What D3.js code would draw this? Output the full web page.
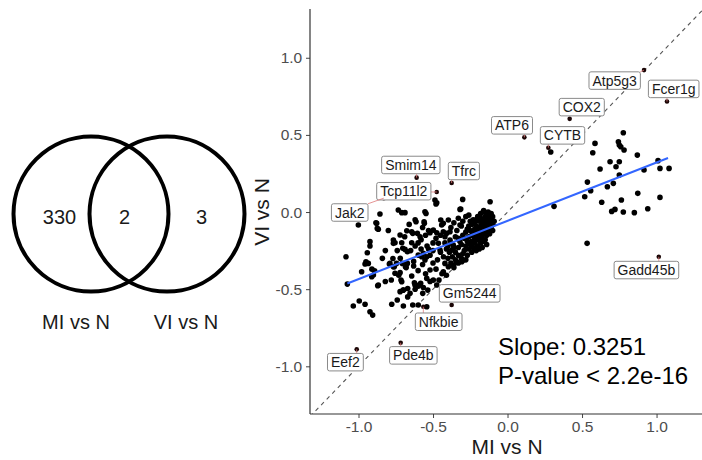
<!DOCTYPE html>
<html>
<head>
<meta charset="utf-8">
<script src="https://cdn.jsdelivr.net/npm/d3@7"></script>
<style>
  html, body { margin: 0; padding: 0; background: #fff; }
  svg { display: block; font-family: "Liberation Sans", Arial, Helvetica, sans-serif; }
</style>
</head>
<body>
<svg id="chart" width="702" height="460"></svg>
<script>
// ---------------- Data ----------------
// Venn
const vennSets = ["MI vs N", "VI vs N"];
const vennCounts = [330, 2, 3]; // only MI, both, only VI

// Scatter axes
const xTicks = [-1.0, -0.5, 0.0, 0.5, 1.0];
const yTicks = [-1.0, -0.5, 0.0, 0.5, 1.0];
const xTickLabels = ["-1.0", "-0.5", "0.0", "0.5", "1.0"];
const yTickLabels = ["-1.0", "-0.5", "0.0", "0.5", "1.0"];
const xTitle = "MI vs N";
const yTitle = "VI vs N";

// Unlabeled genes: MI vs N (x) and VI vs N (y)
const pointsX = [
  0.29,0.587,0.572,0.777,0.744,0.75,0.76,0.782,0.871,0.688,0.75,0.728,0.621,0.916,1.01,1.023,1.084,0.75,0.536,0.71,0.67,0.558,0.518,0.874,1.023,0.764,0.632,0.941,0.721,0.699,0.777,0.851,0.312,0.534,
  -0.856,-1.001,-0.733,-0.71,-0.688,-0.547,-0.883,-0.867,-0.614,-0.558,-0.676,-0.643,-0.636,-0.605,-0.587,-0.721,-0.766,-0.755,-0.71,-0.643,-0.923,-0.923,-0.703,-0.688,-0.672,-0.941,-1.084,-0.95,-0.934,-0.956,-0.793,-0.672,-0.599,-0.576,-0.554,
  -1.075,-0.9,-0.911,-0.867,-1.035,-0.995,-0.956,-0.923,-0.905,-0.777,-0.699,-0.636,
  -0.755,-0.721,-0.71,-0.721,-0.699,-0.643,-0.621,-0.654,-0.599,-0.583,-0.569,-0.542,-0.52,
  -0.599,-0.542,-0.878,-0.874,-0.979,-0.766,-0.789,-0.766,
  -0.487,-0.48,-0.475,-0.301,-0.117,-0.554,-0.319,-0.56,-0.448,-0.431,-0.442,-0.397,-0.319,-0.498,-0.52,-0.475,-0.431,-0.408,-0.386,-0.565,-0.542,-0.464,-0.453,-0.386,-0.364,-0.375,
  -0.498,-0.475,-0.42,-0.397,-0.431,-0.364,-0.341,-0.307,-0.297,-0.314,-0.162,
  -0.10,-0.11,-0.12,-0.13,-0.14,-0.15,-0.16,-0.12,-0.10,-0.11,-0.13,-0.14,-0.15,-0.16,-0.17,-0.18,-0.19,-0.20,-0.21,-0.18,-0.19,-0.17,-0.15,-0.13,-0.12,-0.14,-0.16,-0.18,-0.20,-0.21,-0.22,-0.23,-0.24,-0.25,-0.26,-0.22,-0.23,-0.21,-0.19,-0.17,-0.15,-0.20,-0.22,-0.24,-0.25,-0.27,-0.28,-0.26,-0.24,-0.22,-0.18,-0.20,-0.23,-0.25,-0.27,-0.29,-0.30,-0.28,-0.26,-0.24,-0.29,-0.31,-0.32,-0.33,-0.30,-0.27,-0.33,-0.35,-0.31,-0.28,-0.35,-0.37,-0.33,-0.38,-0.36,-0.40,-0.11,-0.13,-0.16,-0.18,-0.09,-0.10,-0.12,-0.16,-0.14,-0.21,-0.19,-0.17,
  -0.42,-0.40,-0.45,-0.43,-0.47,-0.50,-0.48,-0.44,-0.41,-0.46,-0.52,-0.53,-0.50,-0.48,-0.45,-0.42,-0.38,-0.36,-0.34,-0.33,-0.30,-0.31,-0.28,-0.26,-0.35,-0.33,-0.38,-0.41,-0.39,-0.36,
  -0.65,-0.62,-0.60,-0.58,-0.55,-0.53,-0.57,-0.62,-0.66,-0.69,-0.74,-0.72,-0.68,-0.63,-0.60,-0.57,-0.55,-0.52,-0.63,-0.58,-0.54,-0.50,-0.80,-0.82,-0.84,-0.78,-0.82,-0.74,-0.67,-0.62,
  -0.871,-0.91,-0.892,-0.769,-0.745,-0.76,-0.706,-0.685,-0.73,-0.715,-0.70,-0.67,-0.625,-0.595,-0.565,-0.535
];
const pointsY = [
  0.389,0.445,0.384,0.514,0.456,0.434,0.423,0.402,0.369,0.326,0.326,0.294,0.279,0.272,0.333,0.283,0.283,0.24,0.194,0.186,0.164,0.138,0.099,0.121,0.095,0.078,0.063,0.021,0.017,0.004,0.0,-0.004,0.037,-0.203,
  -0.013,-0.084,0.013,-0.004,-0.004,-0.009,-0.069,-0.112,-0.063,-0.073,-0.121,-0.128,-0.138,-0.138,-0.16,-0.149,-0.203,-0.199,-0.199,-0.199,-0.192,-0.22,-0.235,-0.242,-0.257,-0.264,-0.29,-0.322,-0.333,-0.337,-0.337,-0.333,-0.279,-0.29,-0.311,
  -0.467,-0.408,-0.419,-0.473,-0.609,-0.577,-0.598,-0.646,-0.668,-0.598,-0.609,-0.603,
  -0.397,-0.393,-0.452,-0.516,-0.506,-0.415,-0.473,-0.527,-0.48,-0.462,-0.527,-0.43,-0.376,
  -0.603,-0.614,-0.073,-0.106,-0.387,-0.181,-0.333,-0.355,
  0.078,0.052,0.06,0.082,0.067,0.002,0.017,-0.063,-0.052,-0.073,-0.084,-0.052,-0.084,-0.117,-0.134,-0.134,-0.128,-0.138,-0.128,-0.268,-0.29,-0.203,-0.246,-0.181,-0.214,-0.246,
  -0.441,-0.473,-0.333,-0.355,-0.387,-0.343,-0.322,-0.322,-0.311,0.02,0.002,
  -0.03,-0.05,-0.02,-0.04,-0.01,-0.03,-0.05,-0.07,-0.08,-0.10,-0.09,-0.06,-0.08,-0.10,-0.07,-0.04,-0.06,-0.03,-0.05,-0.09,-0.11,-0.12,-0.12,-0.12,-0.14,-0.15,-0.14,-0.14,-0.12,-0.09,-0.07,-0.05,-0.08,-0.06,-0.09,-0.11,-0.13,-0.15,-0.16,-0.17,-0.18,-0.18,-0.17,-0.15,-0.12,-0.11,-0.13,-0.16,-0.19,-0.20,-0.20,-0.22,-0.23,-0.21,-0.19,-0.17,-0.15,-0.22,-0.24,-0.26,-0.25,-0.21,-0.19,-0.23,-0.27,-0.28,-0.28,-0.26,-0.30,-0.31,-0.31,-0.29,-0.33,-0.33,-0.36,-0.30,-0.01,0.00,0.01,-0.01,-0.06,-0.12,-0.11,-0.19,-0.21,-0.25,-0.24,-0.23,
  -0.20,-0.22,-0.26,-0.29,-0.31,-0.33,-0.37,-0.40,-0.41,-0.44,-0.28,-0.24,-0.20,-0.17,-0.15,-0.16,-0.10,-0.07,-0.12,-0.04,-0.06,-0.09,-0.03,-0.02,-0.16,-0.17,-0.20,-0.24,-0.26,-0.23,
  -0.25,-0.22,-0.20,-0.18,-0.15,-0.12,-0.10,-0.05,-0.08,-0.16,-0.25,-0.30,-0.36,-0.35,-0.38,-0.34,-0.40,-0.45,-0.32,-0.24,-0.22,-0.25,-0.12,-0.25,-0.30,-0.44,-0.45,-0.57,-0.55,-0.50,
  -0.478,-0.37,-0.381,-0.301,-0.333,-0.355,-0.333,-0.355,-0.41,-0.44,-0.506,-0.496,-0.459,-0.474,-0.489,-0.506
];

// Labeled genes
const labelNames = ["Atp5g3","Fcer1g","COX2","ATP6","CYTB","Smim14","Tfrc","Tcp11l2","Jak2","Gadd45b","Gm5244","Nfkbie","Pde4b","Eef2"];
const labelPointX = [0.916, 1.07, 0.417, 0.113, 0.274, -0.61, -0.375, -0.475, -0.83, 1.015, -0.375, -0.565, -0.717, -1.012];
const labelPointY = [0.92, 0.716, 0.604, 0.484, 0.417, 0.223, 0.188, 0.13, 0.09, -0.29, -0.603, -0.614, -0.847, -0.89];
const labelBoxX = [0.719, 1.115, 0.498, 0.030, 0.369, -0.649, -0.293, -0.696, -1.059, 0.932, -0.254, -0.462, -0.632, -1.088];
const labelBoxY = [0.852, 0.798, 0.680, 0.562, 0.497, 0.305, 0.266, 0.135, -0.003, -0.376, -0.527, -0.711, -0.929, -0.973];

// Linear fit
const fitSlopeDrawn = 0.378;
const fitIntercept = -0.057;
const fitRange = [-1.075, 1.077];
const statLines = ["Slope: 0.3251", "P-value < 2.2e-16"];

// ---------------- Drawing ----------------
const svg = d3.select("#chart");
const font = "'Liberation Sans', Arial, Helvetica, sans-serif";
const ink = "#1a1a1a";

// ---- Venn ----
const vennG = svg.append("g");
const vx = d3.scaleLinear().domain([0, 1]).range([91, 167]);
const vR = 77.5, vCy = 214;
vennG.selectAll("circle").data(vennSets).join("circle")
  .attr("cx", (d, i) => vx(i)).attr("cy", vCy).attr("r", vR)
  .attr("fill", "none").attr("stroke", "#000").attr("stroke-width", 4);
const countPos = [59.5, 124.5, 201.5];
vennG.selectAll("text.count").data(vennCounts).join("text")
  .attr("class", "count")
  .attr("x", (d, i) => countPos[i]).attr("y", vCy + 10)
  .attr("text-anchor", "middle").attr("font-size", 20).attr("fill", ink)
  .text(d => d);
vennG.selectAll("text.set").data(vennSets).join("text")
  .attr("class", "set")
  .attr("x", (d, i) => [76, 186][i]).attr("y", 329)
  .attr("text-anchor", "middle").attr("font-size", 20).attr("fill", ink)
  .text(d => d);

// ---- Scatter ----
const pLeft = 310, pRight = 702, pTop = 9, pBottom = 414;
const x = d3.scaleLinear().domain([-1.3255, 1.305]).range([pLeft, pRight]);
const y = d3.scaleLinear().domain([-1.309, 1.316]).range([pBottom, pTop]);

svg.append("clipPath").attr("id", "panel")
  .append("rect").attr("x", pLeft).attr("y", pTop).attr("width", pRight - pLeft).attr("height", pBottom - pTop);

const plot = svg.append("g").attr("clip-path", "url(#panel)");

// identity line
plot.append("line")
  .attr("x1", x(-1.4)).attr("y1", y(-1.4)).attr("x2", x(1.4)).attr("y2", y(1.4))
  .attr("stroke", "#555").attr("stroke-width", 1.1).attr("stroke-dasharray", "4,4");

// points
const pts = pointsX.map((v, i) => ({ x: v, y: pointsY[i] }));
plot.selectAll("circle.pt").data(pts).join("circle")
  .attr("class", "pt")
  .attr("cx", d => x(d.x)).attr("cy", d => y(d.y)).attr("r", 2.8)
  .attr("fill", "#000");

// fit line
plot.append("line")
  .attr("x1", x(fitRange[0])).attr("y1", y(fitIntercept + fitSlopeDrawn * fitRange[0]))
  .attr("x2", x(fitRange[1])).attr("y2", y(fitIntercept + fitSlopeDrawn * fitRange[1]))
  .attr("stroke", "#3366FF").attr("stroke-width", 2);

// labeled points
const labs = labelNames.map((n, i) => ({
  name: n, px: labelPointX[i], py: labelPointY[i], bx: labelBoxX[i], by: labelBoxY[i]
}));
plot.selectAll("circle.lp").data(labs).join("circle")
  .attr("class", "lp")
  .attr("cx", d => x(d.px)).attr("cy", d => y(d.py)).attr("r", 2.3)
  .attr("fill", "#1a0505");

// labels
const labelG = svg.append("g");
const lg = labelG.selectAll("g.lab").data(labs).join("g").attr("class", "lab");
const fsLab = 14, boxH = 17.5, padX = 3.5;
lg.each(function (d) {
  const g = d3.select(this);
  const cx = x(d.bx), cy = y(d.by);
  const t = g.append("text").attr("x", cx).attr("y", cy + fsLab * 0.36)
    .attr("text-anchor", "middle").attr("font-size", fsLab).attr("fill", ink).text(d.name);
  const w = t.node().getComputedTextLength() + padX * 2;
  const bx0 = cx - w / 2, by0 = cy - boxH / 2;
  const ppx = x(d.px), ppy = y(d.py);
  const ex = Math.max(bx0, Math.min(bx0 + w, ppx));
  const ey = Math.max(by0, Math.min(by0 + boxH, ppy));
  const dist = Math.hypot(ppx - ex, ppy - ey);
  if (dist > 3) {
    g.insert("line", "text")
      .attr("x1", ex).attr("y1", ey).attr("x2", ppx).attr("y2", ppy)
      .attr("stroke", "#e07a7a").attr("stroke-width", 1).attr("opacity", 0.8);
  }
  g.insert("rect", "text")
    .attr("x", bx0).attr("y", by0).attr("width", w).attr("height", boxH)
    .attr("rx", 2).attr("fill", "#fff").attr("stroke", "#8a8a8a").attr("stroke-width", 1);
});

// axes
const axisColor = "#333";
const xAxis = svg.append("g").attr("transform", `translate(0,${pBottom})`)
  .call(d3.axisBottom(x).tickValues(xTicks).tickFormat((d, i) => xTickLabels[i]).tickSizeOuter(0).tickSize(4));
const yAxis = svg.append("g").attr("transform", `translate(${pLeft},0)`)
  .call(d3.axisLeft(y).tickValues(yTicks).tickFormat((d, i) => yTickLabels[i]).tickSizeOuter(0).tickSize(4));
[xAxis, yAxis].forEach(a => {
  a.select(".domain").remove();
  a.selectAll(".tick line").attr("stroke", "#444").attr("stroke-width", 1);
  a.selectAll(".tick text").attr("fill", "#4d4d4d").attr("font-size", 15.5).attr("font-family", font);
});
yAxis.selectAll(".tick text").attr("dx", "-0.05em");
svg.append("line").attr("x1", pLeft).attr("x2", pLeft).attr("y1", pTop).attr("y2", pBottom)
  .attr("stroke", axisColor).attr("stroke-width", 1.2);
svg.append("line").attr("x1", pLeft).attr("x2", pRight).attr("y1", pBottom).attr("y2", pBottom)
  .attr("stroke", axisColor).attr("stroke-width", 1.2);

// axis titles
svg.append("text").attr("x", 507).attr("y", 454).attr("text-anchor", "middle")
  .attr("font-size", 21).attr("fill", ink).text(xTitle);
svg.append("text").attr("transform", `translate(${269},${212}) rotate(-90)`)
  .attr("text-anchor", "middle").attr("font-size", 21).attr("fill", ink).text(yTitle);

// stats annotation
svg.selectAll("text.stat").data(statLines).join("text")
  .attr("class", "stat")
  .attr("x", 498).attr("y", (d, i) => 355 + i * 29)
  .attr("font-size", 24).attr("fill", "#000").text(d => d);
</script>
</body>
</html>
